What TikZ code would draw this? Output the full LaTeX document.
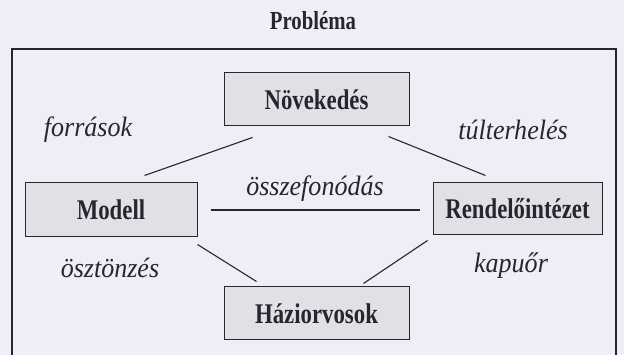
\documentclass[tikz,border=0pt]{standalone}
\usepackage{fontspec}
\setmainfont[FakeStretch=0.8]{Liberation Serif}
\newfontfamily\dolt[FakeStretch=0.93]{Liberation Serif}
\usetikzlibrary{calc}
\definecolor{paper}{RGB}{238,238,246}
\definecolor{boxfill}{RGB}{224,224,229}
\definecolor{ink}{RGB}{38,38,48}
\tikzset{
  blok/.style={draw=ink,line width=1pt,fill=boxfill,font=\fontsize{28.5}{30}\selectfont\bfseries,text=ink,inner sep=0pt},
  felirat/.style={font=\dolt\fontsize{28}{30}\selectfont\itshape,text=ink},
  kapocs/.style={draw=ink,line width=1.1pt}
}
\begin{document}
\begin{tikzpicture}[x=1pt,y=1pt,yscale=-1,xscale=1]
\useasboundingbox[fill=paper] (0,0) rectangle (624,355);

% Frame
\begin{scope}
\clip (0,0) rectangle (624,355);
\draw [draw=ink,line width=1.8pt] (12,362) -- (12,49) -- (616,49) -- (616,362);
\end{scope}

% Title
\node [font=\fontsize{26}{28}\selectfont\bfseries,text=ink] (cim) at (313,21) {Probléma};

% Boxes
\node [blok,minimum width=185,minimum height=53] (nov) at (316.5,99.5) {Növekedés};
\node [blok,minimum width=172,minimum height=54] (mod) at (111,210) {Modell};
\node [blok,minimum width=169,minimum height=52] (ren) at (517.5,209) {Rendelőintézet};
\node [blok,minimum width=185,minimum height=53] (hazi) at (316.5,313.5) {Háziorvosok};

% Connectors
\draw [kapocs] ($(nov.south west)+(29,11)$) -- ($(mod.north west)+(120,-7)$);
\draw [kapocs] ($(nov.south east)+(-21,10)$) -- ($(ren.north west)+(53,-7)$);
\draw [kapocs] ($(mod.east)+(13,0)$) -- ($(ren.west)+(-13,1)$);
\draw [kapocs] ($(mod.south east)+(0,7)$) -- ($(hazi.north west)+(33,-5)$);
\draw [kapocs] ($(ren.south west)+(-5,5)$) -- ($(hazi.north east)+(-46,-3)$);

% Labels
\node [felirat] (forras) at (88,130) {források};
\node [felirat] (terhel) at (513,130) {túlterhelés};
\node [felirat] (fonod) at (315,189) {összefonódás};
\node [felirat] (oszt) at (110,268) {ösztönzés};
\node [felirat] (kapu) at (511,266) {kapuőr};

\end{tikzpicture}
\end{document}
